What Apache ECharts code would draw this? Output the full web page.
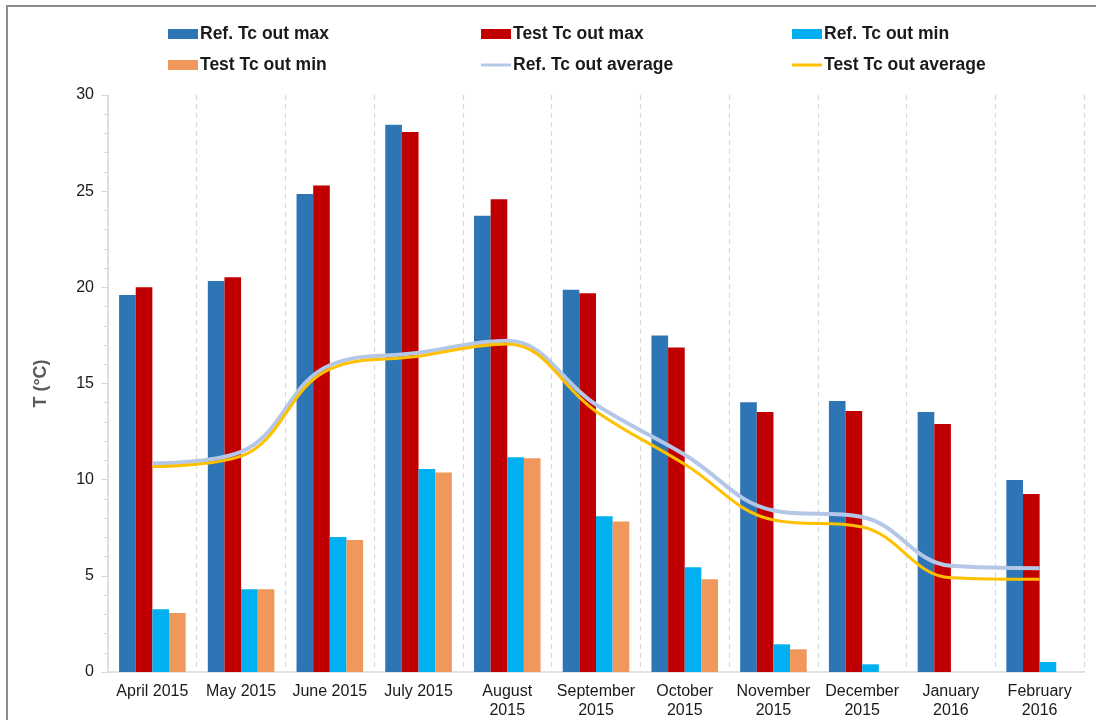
<!DOCTYPE html>
<html>
<head>
<meta charset="utf-8">
<script src="https://cdn.jsdelivr.net/npm/echarts@6/dist/echarts.min.js"></script>
<style>
  html, body { margin: 0; padding: 0; background: #ffffff; }
  #chart { width: 1096px; height: 720px; }
</style>
</head>
<body>
<div id="chart"></div>
<script>
// Monthly outlet temperature Tc: reference vs test unit (°C)
const months = [
  'April 2015', 'May 2015', 'June 2015', 'July 2015', 'August\n2015',
  'September\n2015', 'October\n2015', 'November\n2015', 'December\n2015',
  'January\n2016', 'February\n2016'
];
const refMax  = [19.6, 20.33, 24.85, 28.45, 23.72, 19.88, 17.5, 14.02, 14.09, 13.52, 9.98];
const testMax = [20.0, 20.52, 25.3, 28.08, 24.58, 19.69, 16.87, 13.52, 13.57, 12.9, 9.26];
const refMin  = [3.26, 4.3, 7.02, 10.56, 11.16, 8.1, 5.44, 1.44, 0.4, null, 0.52];
const testMin = [3.07, 4.3, 6.86, 10.37, 11.12, 7.83, 4.82, 1.18, null, null, null];
const refAvg  = [10.84, 11.45, 15.95, 16.6, 17.22, 13.9, 11.3, 8.4, 8.06, 5.52, 5.4];
const testAvg = [10.68, 11.22, 15.75, 16.42, 17.06, 13.55, 10.8, 7.9, 7.54, 4.9, 4.82];
const yTicks = { min: 0, max: 30, step: 5 };

const names = [
  'Ref. Tc out max', 'Test Tc out max', 'Ref. Tc out min',
  'Test Tc out min', 'Ref. Tc out average', 'Test Tc out average'
];
const colors = ['#2E75B6', '#C00000', '#00B0F0', '#F0975B', '#B4C7E7', '#FFC000'];

const chart = echarts.init(document.getElementById('chart'), null, { renderer: 'canvas' });

const font = 'Liberation Sans, Arial, sans-serif';

// one legend block per entry, laid out in a 3 x 2 grid
const legendCols = [168, 481, 792];
const legendRows = [25, 56];
const legends = names.map((n, i) => {
  const isLine = i >= 4;
  return {
    data: [{ name: n, icon: 'rect' }],
    left: legendCols[i % 3],
    top: legendRows[Math.floor(i / 3)],
    itemWidth: 30,
    itemHeight: isLine ? 3 : 10,
    itemGap: 0,
    padding: 0,
    selectedMode: false,
    textStyle: { fontFamily: font, fontSize: 17.5, fontWeight: 'bold', color: '#1a1a1a', padding: [0, 0, 0, -3] }
  };
});

const barSeries = [refMax, testMax, refMin, testMin].map((d, i) => ({
  name: names[i],
  type: 'bar',
  data: d,
  barGap: '0%',
  barCategoryGap: '25%',
  itemStyle: { color: colors[i] },
  emphasis: { disabled: true }
}));

const lineSeries = [refAvg, testAvg].map((d, i) => ({
  name: names[4 + i],
  type: 'line',
  data: d,
  smooth: 0.4,
  symbol: 'none',
  z: 5 + i,
  lineStyle: { color: colors[4 + i], width: i === 0 ? 4 : 3 },
  itemStyle: { color: colors[4 + i] },
  emphasis: { disabled: true }
}));

chart.setOption({
  animation: false,
  backgroundColor: '#ffffff',
  color: colors,
  graphic: [{
    type: 'rect',
    shape: { x: 7, y: 6, width: 1200, height: 800 },
    style: { fill: 'none', stroke: '#8c8c8c', lineWidth: 2 },
    silent: true
  }],
  legend: legends,
  grid: { left: 108, right: 12, top: 95, bottom: 48, containLabel: false },
  xAxis: {
    type: 'category',
    data: months,
    boundaryGap: true,
    axisLine: { show: true, lineStyle: { color: '#D9D9D9', width: 1.5 } },
    axisTick: { show: false },
    axisLabel: {
      interval: 0,
      margin: 10,
      fontFamily: font,
      fontSize: 16,
      lineHeight: 19,
      color: '#1a1a1a'
    },
    splitLine: { show: true, interval: 0, lineStyle: { color: '#D9D9D9', type: [5, 4], width: 1.2 } }
  },
  yAxis: {
    type: 'value',
    min: yTicks.min,
    max: yTicks.max,
    interval: yTicks.step,
    name: 'T (°C)',
    nameLocation: 'middle',
    nameGap: 58,
    nameRotate: 90,
    nameTextStyle: { fontFamily: font, fontSize: 18, fontWeight: 'bold', color: '#595959' },
    axisLine: { show: true, lineStyle: { color: '#D9D9D9', width: 1.5 } },
    axisTick: { show: true, inside: false, length: 7, lineStyle: { color: '#D9D9D9' } },
    minorTick: { show: true, splitNumber: 5, length: 4, lineStyle: { color: '#D9D9D9' } },
    axisLabel: { margin: 14, fontFamily: font, fontSize: 16, color: '#1a1a1a' },
    splitLine: { show: false }
  },
  series: barSeries.concat(lineSeries)
});
</script>
</body>
</html>
